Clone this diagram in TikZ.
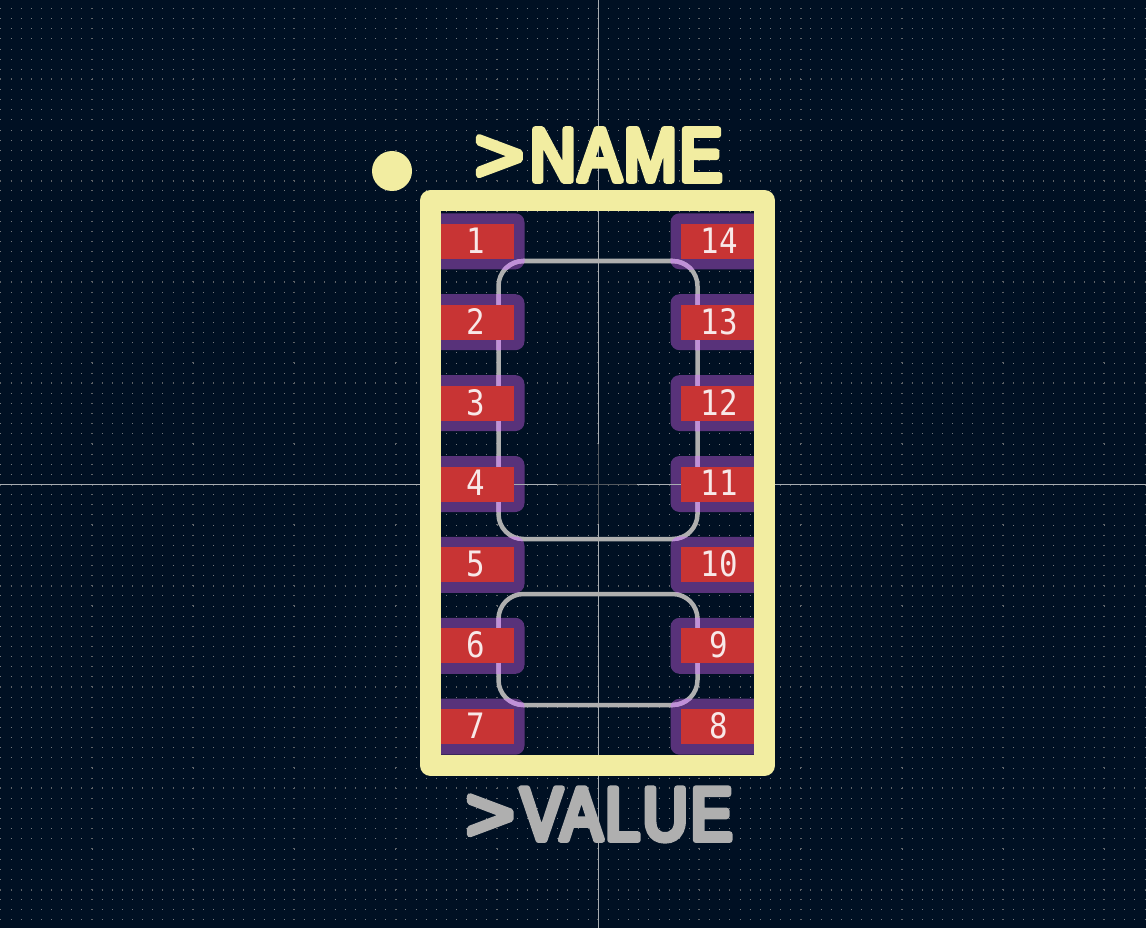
\documentclass[tikz,border=0pt]{standalone}
\usepackage{xcolor}
\usepackage{fontspec}
\usetikzlibrary{positioning}
\newfontfamily\silkfont[FakeBold=8,FakeStretch=0.85,LetterSpace=3.6]{Liberation Sans}
\newfontfamily\fabfont[FakeBold=8,FakeStretch=0.83,LetterSpace=4]{Liberation Sans}
\newfontfamily\tipfont[FakeBold=8,FakeStretch=1.12]{Liberation Sans}
\newfontfamily\padfont[FakeStretch=0.88]{DejaVu Sans Mono}
\definecolor{boardbg}{HTML}{001023}
\definecolor{griddot}{HTML}{73777C}
\definecolor{gridbold}{HTML}{5E6267}
\definecolor{crossline}{HTML}{A8ADB2}
\definecolor{anchorline}{HTML}{555A60}
\definecolor{silk}{HTML}{F2EDA1}
\definecolor{copper}{HTML}{C83434}
\definecolor{soldermask}{HTML}{58327A}
\definecolor{fabgrey}{HTML}{AFAFAF}
\definecolor{fablilac}{HTML}{C090D8}
\definecolor{padtext}{HTML}{F8E8E8}

\begin{document}
\begin{tikzpicture}[
    x=1pt, y=-1pt,
    gridrow/.style={griddot, line width=1pt, dash pattern=on 1pt off 9.125pt},
    gridmajor/.style={gridbold, line width=2pt, dash pattern=on 1pt off 9.125pt},
    maskbox/.style={rectangle, fill=soldermask, draw=none, minimum width=97pt, minimum height=56pt, rounded corners=9pt, inner sep=0pt},
    padbox/.style={rectangle, fill=copper, draw=none, text=padtext, font=\padfont\fontsize{35}{35}\selectfont, minimum width=76pt, minimum height=35pt, inner sep=0pt},
    fabline/.style={line width=4.5pt, rounded corners=25pt},
    silkline/.style={silk, line width=21pt, line join=round},
    bigtext/.style={inner sep=0pt, line join=round, line cap=round}
]
    \fill[boardbg] (0,0) rectangle (1146,928);
    \useasboundingbox (0,0) rectangle (1146,928);

    % grid
    \foreach \k in {-47,...,43}
        \draw[gridrow] (0.375,{484.5+10.125*\k}) -- (1146,{484.5+10.125*\k});
    \foreach \k in {-4,...,4}
        \draw[gridmajor] (0.375,{484.5+101.25*\k}) -- (1146,{484.5+101.25*\k});
    \foreach \k in {-5,...,5}
        \draw[gridmajor] ({598+101.25*\k},8.1) -- ({598+101.25*\k},928);

    % solder mask
    \foreach \i in {1,...,7} {
        \node[maskbox] (mask\i) at (476,{484+(\i-4)*80.9}) {};
        \pgfmathtruncatemacro{\j}{15-\i}
        \node[maskbox] (mask\j) at (719,{484+(\i-4)*80.9}) {};
    }

    % crosshair
    \draw[crossline, line width=1pt] (598,0) -- (598,928);
    \draw[crossline, line width=1pt] (0,484.5) -- (1146,484.5);
    \draw[anchorline, line width=1pt] (557,484.5) -- (637,484.5);
    \draw[anchorline, line width=1pt] (598,444) -- (598,524);

    % fab outline
    \draw[fabline, fabgrey] (498.5,261) rectangle (697.5,539);
    \draw[fabline, fabgrey] (498.5,594) rectangle (697.5,705);
    \begin{scope}
        \clip \foreach \i in {1,...,14} {[rounded corners=9pt] (mask\i.south west) rectangle (mask\i.north east)};
        \draw[fabline, fablilac] (498.5,261) rectangle (697.5,539);
        \draw[fabline, fablilac] (498.5,594) rectangle (697.5,705);
    \end{scope}

    % pads
    \foreach \i in {1,...,7} {
        \node[padbox] (pad\i) at (476,{484+(\i-4)*80.9}) {\raisebox{2pt}{\i}};
        \pgfmathtruncatemacro{\j}{15-\i}
        \node[padbox] (pad\j) at (719,{484+(\i-4)*80.9}) {\raisebox{2pt}{\j}};
    }

    % silkscreen
    \draw[silkline] (430.5,200.5) rectangle (764.5,765.5);
    \fill[silk] (392,171) circle (20);
    \node[bigtext, text=silk, font=\silkfont\fontsize{75}{75}\selectfont] (name) at (598.5,155) {{\tipfont >}\hspace{6pt}NAME};
    \node[bigtext, text=fabgrey, font=\fabfont\fontsize{75}{75}\selectfont] (value) at (599,814.5) {{\tipfont >}\hspace{6pt}VALUE};
\end{tikzpicture}
\end{document}
